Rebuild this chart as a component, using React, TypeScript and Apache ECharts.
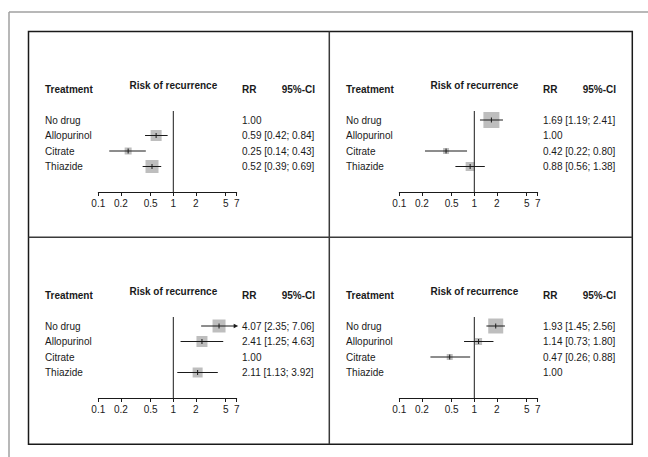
import React, { useEffect, useRef } from "react";
import * as echarts from "echarts";

// ---------- data ----------
const treatments = ["No drug", "Allopurinol", "Citrate", "Thiazide"];
const tickValues = [0.1, 0.2, 0.5, 1, 2, 5, 7];
const headerTreatment = "Treatment";
const headerEffect = "Risk of recurrence";
const headerRR = "RR";
const headerCI = "95%-CI";

// Panel 1: reference = No drug
const p1RR = [1.0, 0.59, 0.25, 0.52];
const p1Lower = [null, 0.42, 0.14, 0.39];
const p1Upper = [null, 0.84, 0.43, 0.69];
const p1Weights = [0, 11, 7, 13];

// Panel 2: reference = Allopurinol
const p2RR = [1.69, 1.0, 0.42, 0.88];
const p2Lower = [1.19, null, 0.22, 0.56];
const p2Upper = [2.41, null, 0.8, 1.38];
const p2Weights = [16, 0, 6, 9];

// Panel 3: reference = Citrate
const p3RR = [4.07, 2.41, 1.0, 2.11];
const p3Lower = [2.35, 1.25, null, 1.13];
const p3Upper = [7.06, 4.63, null, 3.92];
const p3Weights = [13, 11, 0, 10];

// Panel 4: reference = Thiazide
const p4RR = [1.93, 1.14, 0.47, 1.0];
const p4Lower = [1.45, 0.73, 0.26, null];
const p4Upper = [2.56, 1.8, 0.88, null];
const p4Weights = [15, 7, 6, 0];

const panels = [
  { rr: p1RR, lo: p1Lower, hi: p1Upper, w: p1Weights },
  { rr: p2RR, lo: p2Lower, hi: p2Upper, w: p2Weights },
  { rr: p3RR, lo: p3Lower, hi: p3Upper, w: p3Weights },
  { rr: p4RR, lo: p4Lower, hi: p4Upper, w: p4Weights },
];

// ---------- layout ----------
const FONT = '"Liberation Sans", Arial, sans-serif';
const INK = "#1a1a1a";
const GRID_LEFT = 98.3;
const GRID_WIDTH = 138.4;
const GRID_TOP = 111;
const GRID_HEIGHT = 81;
const ROW_FIRST = 120;
const ROW_STEP = 15.5;
const DX = 301;
const DY = 206;
const offsets = [
  [0, 0],
  [DX, 0],
  [0, DY],
  [DX, DY],
];
const X_MIN = Math.log10(0.1);
const X_MAX = Math.log10(7);
const Y_MIN = 1 - (ROW_FIRST - GRID_TOP) / ROW_STEP;
const Y_MAX = 4 + (GRID_TOP + GRID_HEIGHT - (ROW_FIRST + 3 * ROW_STEP)) / ROW_STEP;

function fmt(v: number) {
  return v.toFixed(2);
}

function rowText(p: any, i: number) {
  const base = fmt(p.rr[i]);
  if (p.lo[i] == null) return base;
  return base + " [" + fmt(p.lo[i]) + "; " + fmt(p.hi[i]) + "]";
}

function buildOption() {
  const grid: any[] = [];
  const xAxis: any[] = [];
  const yAxis: any[] = [];
  const series: any[] = [];
  const graphic: any[] = [];

  // frames
  graphic.push(
    { type: "line", shape: { x1: 9, y1: 12, x2: 660, y2: 12 }, style: { stroke: "#a0a0a0", lineWidth: 1.5 } },
    { type: "line", shape: { x1: 9, y1: 12, x2: 9, y2: 470 }, style: { stroke: "#a0a0a0", lineWidth: 1.5 } },
    {
      type: "rect",
      shape: { x: 28.5, y: 31.5, width: 603.8, height: 412.8 },
      style: { fill: "none", stroke: INK, lineWidth: 1.5 },
    },
    { type: "line", shape: { x1: 329.3, y1: 31.5, x2: 329.3, y2: 444.3 }, style: { stroke: "#3a3a3a", lineWidth: 1.5 } },
    { type: "line", shape: { x1: 28.5, y1: 237.3, x2: 632.3, y2: 237.3 }, style: { stroke: "#3a3a3a", lineWidth: 1.5 } }
  );

  const tickPos = tickValues.map((t) => Math.log10(t));
  const refX = GRID_LEFT + ((0 - X_MIN) / (X_MAX - X_MIN)) * GRID_WIDTH;

  panels.forEach((p, i) => {
    const [dx, dy] = offsets[i];
    grid.push({
      left: GRID_LEFT + dx,
      top: GRID_TOP + dy,
      width: GRID_WIDTH,
      height: GRID_HEIGHT,
      containLabel: false,
    });
    xAxis.push({
      type: "value",
      gridIndex: i,
      min: X_MIN,
      max: X_MAX,
      position: "bottom",
      axisLine: { show: true, lineStyle: { color: INK, width: 1 } },
      axisTick: { show: true, length: 4, inside: false, customValues: tickPos, lineStyle: { color: INK, width: 1 } },
      axisLabel: {
        show: true,
        customValues: tickPos,
        margin: 6,
        fontSize: 10,
        color: INK,
        fontFamily: FONT,
        formatter: (v: number) => String(parseFloat(Math.pow(10, v).toFixed(1))),
      },
      splitLine: { show: false },
    });
    yAxis.push({
      type: "value",
      gridIndex: i,
      min: Y_MIN,
      max: Y_MAX,
      inverse: true,
      position: "left",
      axisLine: { show: false },
      axisTick: { show: false },
      splitLine: { show: false },
      axisLabel: {
        show: true,
        customValues: [1, 2, 3, 4],
        align: "left",
        margin: GRID_LEFT - 45,
        fontSize: 10,
        color: INK,
        fontFamily: FONT,
        formatter: (v: number) => treatments[Math.round(v) - 1] ?? "",
      },
    });
    yAxis.push({
      type: "value",
      gridIndex: i,
      min: Y_MIN,
      max: Y_MAX,
      inverse: true,
      position: "right",
      axisLine: { show: false },
      axisTick: { show: false },
      splitLine: { show: false },
      axisLabel: {
        show: true,
        customValues: [1, 2, 3, 4],
        align: "left",
        margin: 242 - (GRID_LEFT + GRID_WIDTH),
        fontSize: 10,
        color: INK,
        fontFamily: FONT,
        formatter: (v: number) => rowText(p, Math.round(v) - 1),
      },
    });

    // reference line at RR = 1
    series.push({
      type: "line",
      xAxisIndex: i,
      yAxisIndex: 2 * i,
      data: [
        [0, Y_MIN],
        [0, Y_MAX],
      ],
      symbol: "none",
      silent: true,
      lineStyle: { color: INK, width: 1 },
    });

    const data: any[] = [];
    p.rr.forEach((rr: number, r: number) => {
      if (p.lo[r] == null) return;
      data.push([r + 1, Math.log10(rr), Math.log10(p.lo[r] as number), Math.log10(p.hi[r] as number), p.w[r]]);
    });

    series.push({
      type: "custom",
      xAxisIndex: i,
      yAxisIndex: 2 * i,
      silent: true,
      clip: false,
      data,
      renderItem: (params: any, api: any) => {
        const row = api.value(0);
        const est = api.value(1);
        const lo = api.value(2);
        const hi = api.value(3);
        const w = api.value(4);
        const c = api.coord([est, row]);
        const pLo = api.coord([Math.max(lo, X_MIN), row]);
        const clipped = hi > X_MAX;
        const pHi = api.coord([Math.min(hi, X_MAX), row]);
        const children: any[] = [
          {
            type: "rect",
            shape: { x: c[0] - w / 2, y: c[1] - w / 2, width: w, height: w },
            style: { fill: "#bebebe" },
          },
          {
            type: "line",
            shape: { x1: pLo[0], y1: c[1], x2: clipped ? pHi[0] - 2 : pHi[0], y2: c[1] },
            style: { stroke: INK, lineWidth: 1 },
          },
          {
            type: "line",
            shape: { x1: c[0], y1: c[1] - 2.5, x2: c[0], y2: c[1] + 2.5 },
            style: { stroke: INK, lineWidth: 1 },
          },
        ];
        if (clipped) {
          children.push({
            type: "polygon",
            shape: {
              points: [
                [pHi[0] + 1.5, c[1]],
                [pHi[0] - 3, c[1] - 2.3],
                [pHi[0] - 3, c[1] + 2.3],
              ],
            },
            style: { fill: INK },
          });
        }
        return { type: "group", children };
      },
    });

    // headers
    const hy = 89 + dy;
    graphic.push(
      {
        type: "text",
        x: 45 + dx,
        y: hy,
        style: { text: headerTreatment, font: "bold 10px " + FONT, fill: INK, align: "left", verticalAlign: "middle" },
      },
      {
        type: "text",
        x: refX + dx,
        y: hy - 4,
        style: { text: headerEffect, font: "bold 10px " + FONT, fill: INK, align: "center", verticalAlign: "middle" },
      },
      {
        type: "text",
        x: 242 + dx,
        y: hy,
        style: { text: headerRR, font: "bold 10px " + FONT, fill: INK, align: "left", verticalAlign: "middle" },
      },
      {
        type: "text",
        x: 315 + dx,
        y: hy,
        style: { text: headerCI, font: "bold 10px " + FONT, fill: INK, align: "right", verticalAlign: "middle" },
      }
    );
  });

  return {
    animation: false,
    backgroundColor: "#ffffff",
    textStyle: { fontFamily: FONT },
    grid,
    xAxis,
    yAxis,
    series,
    graphic,
  };
}

export default function App() {
  const ref = useRef<HTMLDivElement>(null);
  useEffect(() => {
    if (!ref.current) return;
    const chart = echarts.init(ref.current, undefined, { renderer: "svg" });
    chart.setOption(buildOption() as any);
    return () => chart.dispose();
  }, []);
  return (
    <div
      ref={ref}
      style={{ position: "absolute", left: 0, top: 0, width: 648, height: 457, background: "#fff" }}
    />
  );
}
